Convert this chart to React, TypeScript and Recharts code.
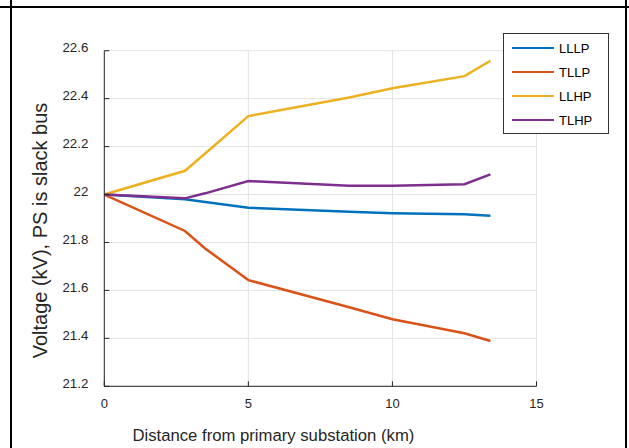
import React from 'react';
import { LineChart, Line, XAxis, YAxis, CartesianGrid, Legend, Label } from 'recharts';

const distanceKm = [0, 2.8, 3.5, 5, 8.5, 10, 12.5, 13.4];
const lllp = [22.0, 21.98, 21.969, 21.945, 21.928, 21.922, 21.918, 21.911];
const tllp = [22.0, 21.848, 21.775, 21.643, 21.53, 21.48, 21.421, 21.389];
const llhp = [22.0, 22.099, 22.171, 22.327, 22.405, 22.443, 22.494, 22.558];
const tlhp = [22.0, 21.984, 22.005, 22.056, 22.037, 22.037, 22.043, 22.084];

const seriesNames = ['LLLP', 'TLLP', 'LLHP', 'TLHP'];
const seriesColors = ['#0072BD', '#D95319', '#EDB120', '#7E2F8E'];
const seriesValues = [lllp, tllp, llhp, tlhp];

const xTicks = [0, 5, 10, 15];
const yTicks = [21.2, 21.4, 21.6, 21.8, 22, 22.2, 22.4, 22.6];

const data = distanceKm.map((d, i) => {
  const row: Record<string, number> = { d };
  seriesNames.forEach((n, s) => {
    row[n] = seriesValues[s][i];
  });
  return row;
});

const FONT = '"Liberation Sans", Arial, Helvetica, sans-serif';
const AXIS = '#262626';

const renderLegend = () => (
  <div
    style={{
      width: 106,
      height: 101,
      border: '1px solid #333',
      background: '#fff',
      boxSizing: 'border-box',
      paddingTop: 2,
      fontFamily: FONT,
    }}
  >
    {seriesNames.map((n, i) => (
      <div key={n} style={{ display: 'flex', alignItems: 'center', height: 24 }}>
        <div style={{ marginLeft: 8, width: 42, height: 2.5, background: seriesColors[i] }} />
        <span style={{ marginLeft: 5, fontSize: 13, color: '#000', lineHeight: '13px' }}>{n}</span>
      </div>
    ))}
  </div>
);

export default function App() {
  return (
    <div
      style={{
        position: 'absolute',
        left: 0,
        top: 0,
        width: 629,
        height: 448,
        background: '#fff',
        fontFamily: FONT,
        overflow: 'hidden',
      }}
    >
      <LineChart
        width={629}
        height={448}
        data={data}
        margin={{ top: 50.7, right: 92.5, bottom: 0, left: 0 }}
      >
        <CartesianGrid stroke="#e3e3e3" strokeWidth={1} />
        <XAxis
          dataKey="d"
          type="number"
          domain={[0, 15]}
          ticks={xTicks}
          height={61.7}
          tickSize={-5}
          tickMargin={17}
          stroke={AXIS}
          tick={{ fill: AXIS, fontSize: 13, fontFamily: FONT }}
          interval={0}
        >
          <Label
            value="Distance from primary substation (km)"
            position="insideBottom"
            offset={7}
            dx={-47}
            fill={AXIS}
            fontSize={16.7}
            fontFamily={FONT}
          />
        </XAxis>
        <XAxis
          xAxisId="top"
          dataKey="d"
          type="number"
          orientation="top"
          domain={[0, 15]}
          ticks={xTicks}
          height={0}
          tickSize={-5}
          tick={false}
          stroke={AXIS}
        />
        <YAxis
          type="number"
          domain={[21.2, 22.6]}
          ticks={yTicks}
          width={104.3}
          tickSize={-5}
          tickMargin={21}
          stroke={AXIS}
          tick={{ fill: AXIS, fontSize: 13.3, fontFamily: FONT, dy: -3 }}
          interval={0}
        >
          <Label
            value="Voltage (kV), PS is slack bus"
            angle={-90}
            position="insideLeft"
            offset={39.5}
            dy={12}
            style={{ textAnchor: 'middle' }}
            fill={AXIS}
            fontSize={20}
            fontFamily={FONT}
          />
        </YAxis>
        <YAxis
          yAxisId="right"
          type="number"
          orientation="right"
          domain={[21.2, 22.6]}
          ticks={yTicks}
          width={0}
          tickSize={-5}
          tick={false}
          stroke={AXIS}
        />
        {seriesNames.map((n, i) => (
          <Line
            key={n}
            dataKey={n}
            name={n}
            stroke={seriesColors[i]}
            strokeWidth={2.5}
            dot={false}
            activeDot={false}
            isAnimationActive={false}
            type="linear"
          />
        ))}
        <Legend
          layout="vertical"
          align="center"
          verticalAlign="middle"
          content={renderLegend}
          wrapperStyle={{ left: 503, top: 33, width: 106, height: 101, right: 'auto', bottom: 'auto' }}
        />
      </LineChart>
      <div style={{ position: 'absolute', left: 0, top: 6, width: 629, height: 2, background: '#000' }} />
      <div style={{ position: 'absolute', left: 10, top: 0, width: 2, height: 448, background: '#000' }} />
      <div style={{ position: 'absolute', left: 625, top: 0, width: 2, height: 448, background: '#000' }} />
    </div>
  );
}
